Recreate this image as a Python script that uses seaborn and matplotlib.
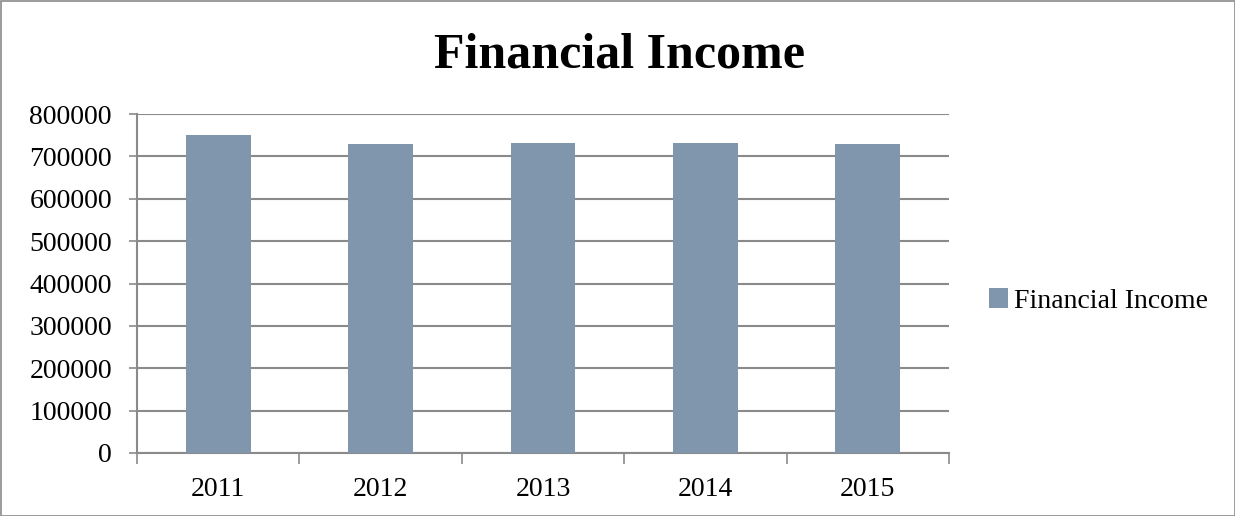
import matplotlib
matplotlib.use("Agg")
import matplotlib.pyplot as plt
import seaborn as sns
import pandas as pd
from matplotlib.patches import Patch, Rectangle

years = ["2011", "2012", "2013", "2014", "2015"]
income = [750000, 729000, 731000, 731000, 729000]
series_name = "Financial Income"
yticks = [0, 100000, 200000, 300000, 400000, 500000, 600000, 700000, 800000]

sns.set_theme(style="white")
plt.rcParams['font.family'] = ['Liberation Serif', 'DejaVu Serif']
plt.rcParams['text.color'] = 'black'
plt.rcParams['xtick.color'] = 'black'
plt.rcParams['ytick.color'] = 'black'

df = pd.DataFrame({"year": years, "income": income})

fig = plt.figure(figsize=(12.35, 5.16), dpi=100)
ax = fig.add_axes([137/1235, 1-453/516, (949-137)/1235, (453-114)/516])

color = "#7F96AD"
sns.barplot(data=df, x="year", y="income", color=color, width=0.4, ax=ax,
            saturation=1, edgecolor="none", zorder=3)

ax.set_ylim(0, 800000)
ax.set_xlim(-0.5, 4.5)
ax.set_yticks(yticks)
ax.set_yticklabels([str(v) for v in yticks], fontsize=20)
ax.yaxis.grid(True, color="#8a8a8a", linewidth=1.5, zorder=0)
ax.set_axisbelow(True)
ax.set_xlabel("")
ax.set_ylabel("")

ax.tick_params(axis="y", which="major", length=6, width=1.2, color="#8a8a8a",
               labelcolor="black", direction="out", pad=12, left=True)
ax.tick_params(axis="x", which="major", length=0, pad=17, labelsize=20,
               labelcolor="black")
ax.set_xticks([-0.5, 0.5, 1.5, 2.5, 3.5, 4.5], minor=True)
ax.tick_params(axis="x", which="minor", length=8, width=1.2, color="#8a8a8a",
               direction="out", bottom=True)

for s in ["top", "right"]:
    ax.spines[s].set_visible(False)
for s in ["left", "bottom"]:
    ax.spines[s].set_color("#8a8a8a")
    ax.spines[s].set_linewidth(1.5)

fig.text(620/1235, 1-56/516, "Financial Income", ha="center", va="center",
         fontsize=36, fontweight="bold", color="black")

handles = [Patch(facecolor=color, edgecolor="none", label=series_name)]
fig.legend(handles=handles, loc="center left", bbox_to_anchor=(989/1235, 1-301/516),
           frameon=False, fontsize=20, handlelength=0.7, handleheight=0.7,
           handletextpad=0.2, borderaxespad=0, borderpad=0, labelcolor="black")

fig.patches.append(Rectangle((0.5/1235, 0.5/516), 1-1/1235, 1-1/516,
                             transform=fig.transFigure, fill=False,
                             edgecolor="#8a8a8a", linewidth=1.2))

fig.savefig("out.png", dpi=100)
